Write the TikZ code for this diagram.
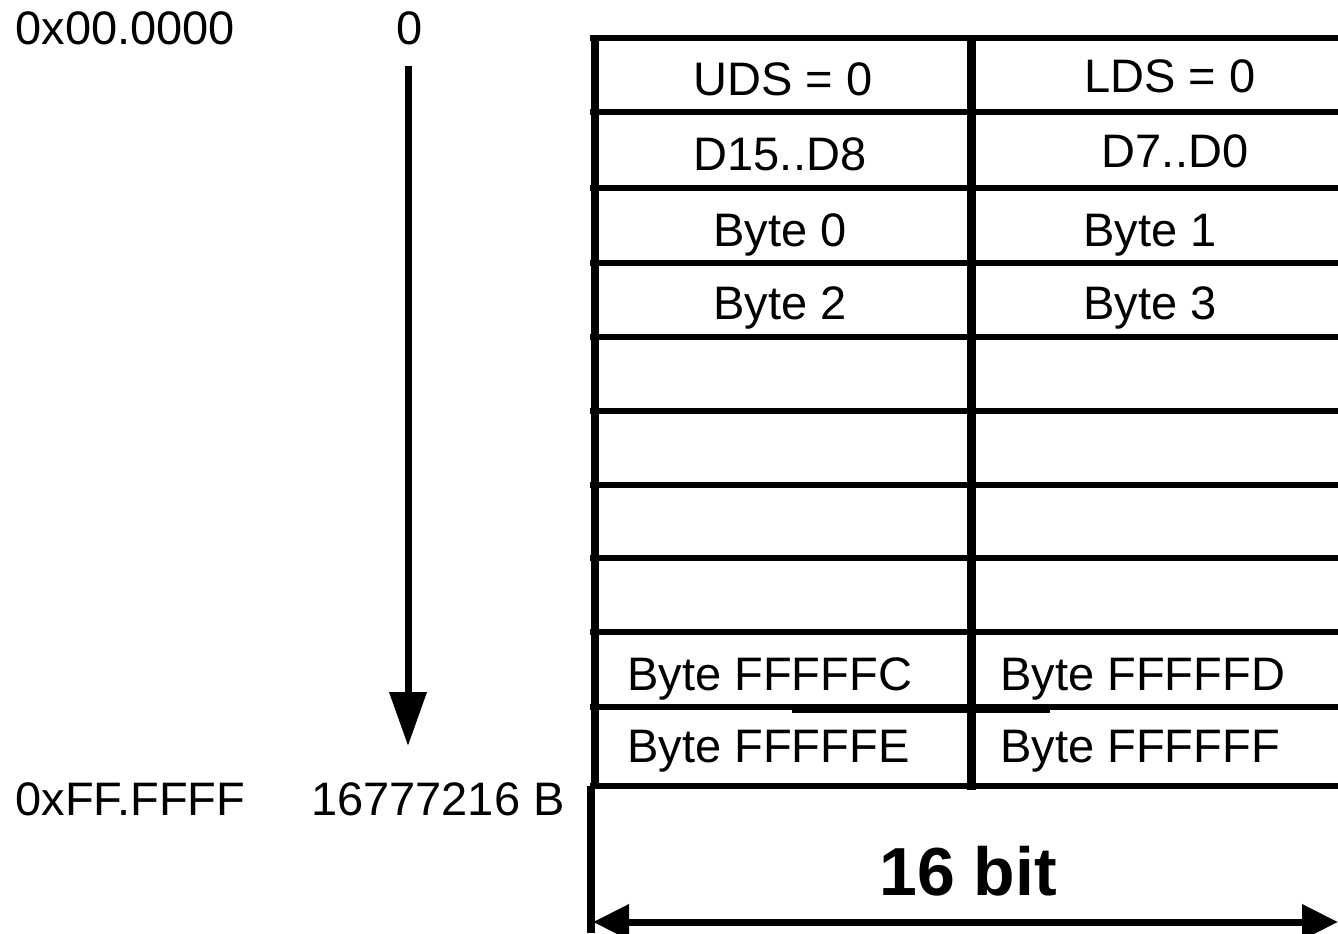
\documentclass[tikz,border=0pt]{standalone}
\usepackage{fontspec}
\setmainfont{Liberation Sans}
\usetikzlibrary{arrows.meta}

\begin{document}
\begin{tikzpicture}[x=0.5pt,y=-0.5pt,
  lbl/.style={font=\fontsize{23.5}{28}\selectfont,inner sep=0pt},
  rule/.style={line width=3pt},
  post/.style={line width=4pt}]
\useasboundingbox (0,0) rectangle (1338,933);
% address column
\node[lbl,anchor=base west] (adrlo) at (15,44) {0x00.0000};
\node[lbl,anchor=base] (zero) at (410,44) {0};
\node[lbl,anchor=base west] (adrhi) at (15,815) {0xFF.FFFF};
\node[lbl,anchor=base east] (size) at (565,815) {16777216 B};
\coordinate (flowtop) at (408,66);
\coordinate (flowend) at (408,746);
\draw[line width=3.5pt,-{Triangle[length=27pt,width=18pt]}] (flowtop) -- (flowend);
% memory rows
\foreach \y in {38,112,188,263,337,411,485,558,632,707,786}
  \draw[rule] (590,\y) -- (1338,\y);
\draw[line width=3.5pt] (792,709) -- (1050,709);
\draw[post] (595,36) -- (595,788);
\draw[line width=4.5pt] (971,36) -- (971,790);
\draw[post] (591,786) -- (591,933);
% cells
\node[lbl,anchor=base] (uds) at (783,95) {UDS = 0};
\node[lbl,anchor=base] (lds) at (1170,92) {LDS = 0};
\node[lbl,anchor=base] (dhi) at (780,170) {D15..D8};
\node[lbl,anchor=base] (dlo) at (1175,167) {D7..D0};
\node[lbl,anchor=base] (b0) at (780,246) {Byte 0};
\node[lbl,anchor=base] (b1) at (1150,246) {Byte 1};
\node[lbl,anchor=base] (b2) at (780,319) {Byte 2};
\node[lbl,anchor=base] (b3) at (1150,319) {Byte 3};
\node[lbl,anchor=base west] (bfc) at (627,690) {Byte FFFFFC};
\node[lbl,anchor=base west] (bfd) at (1000,690) {Byte FFFFFD};
\node[lbl,anchor=base west] (bfe) at (627,762) {Byte FFFFFE};
\node[lbl,anchor=base west] (bff) at (1000,762) {Byte FFFFFF};
% width
\node[font=\fontsize{34}{40}\selectfont\bfseries,inner sep=0pt,anchor=base] (width) at (968,895) {16 bit};
\coordinate (wl) at (593,922);
\coordinate (wr) at (1338,922);
\draw[line width=3.5pt,{Triangle[length=18pt,width=17pt]}-{Triangle[length=18pt,width=17pt]}] (wl) -- (wr);
\end{tikzpicture}
\end{document}
